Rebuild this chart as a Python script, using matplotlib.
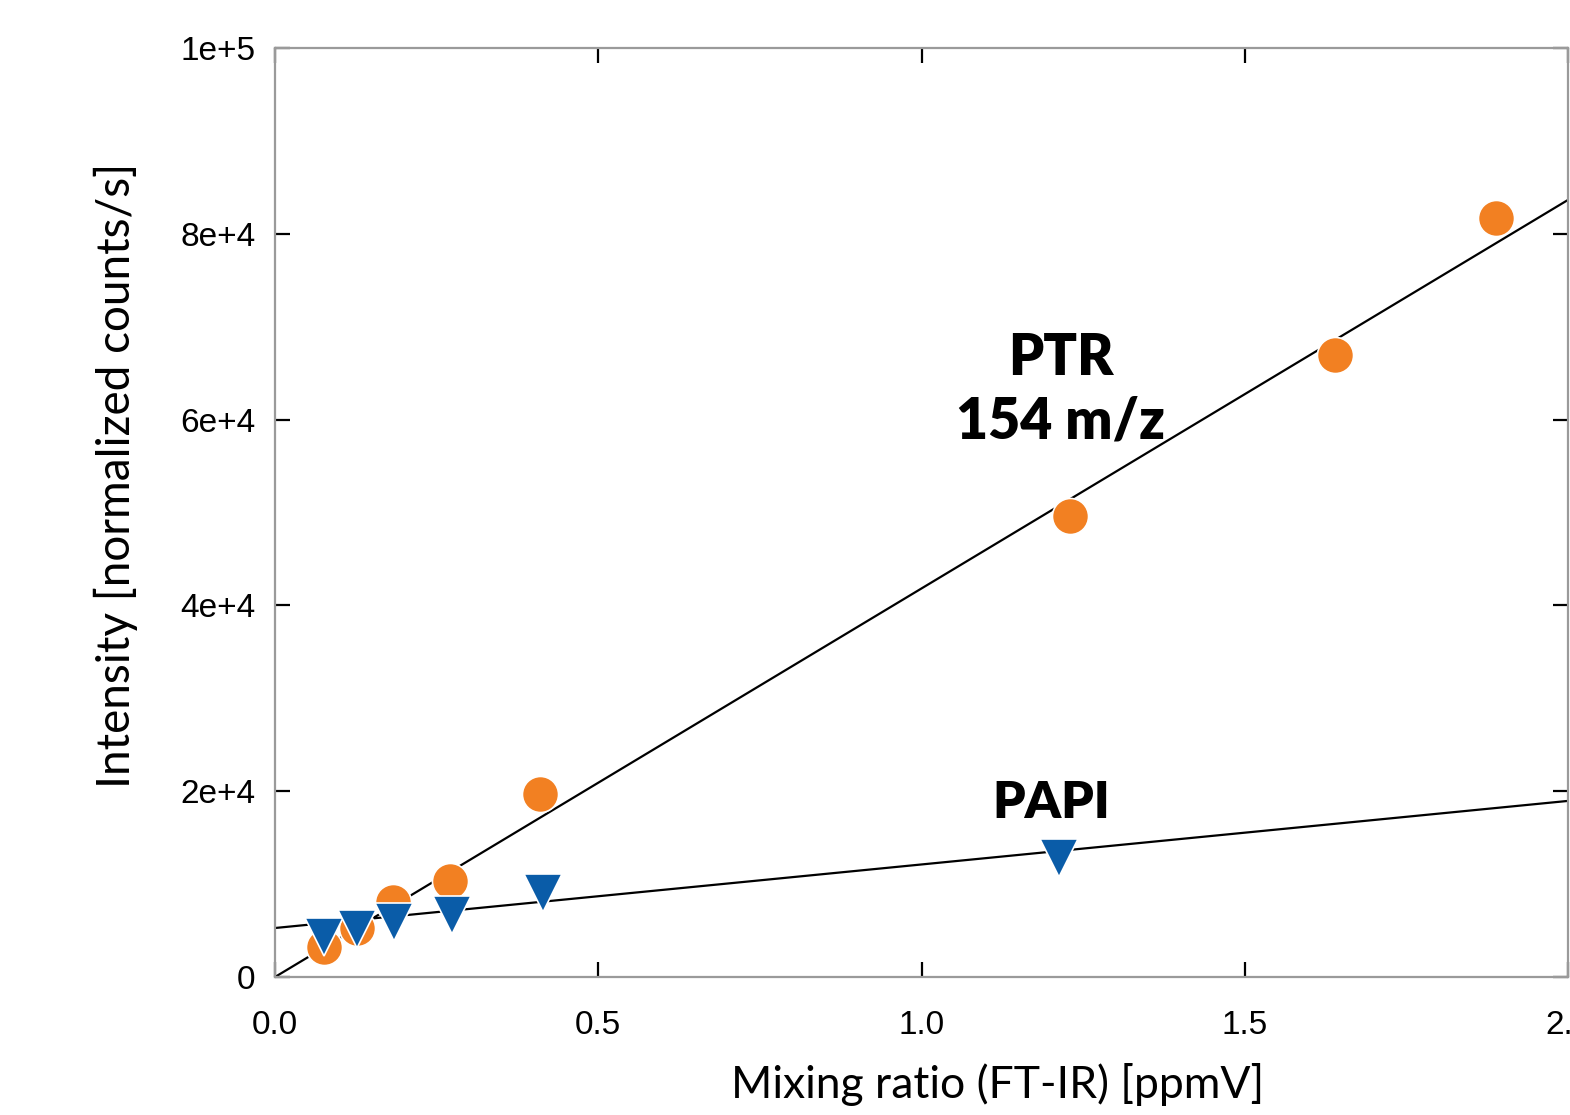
import numpy as np
import matplotlib
import matplotlib.pyplot as plt

matplotlib.use('Agg')

# PTR 154 m/z
ptr_x = [0.076, 0.127, 0.183, 0.271, 0.41, 1.229, 1.639, 1.889]
ptr_y = [3230, 5270, 8070, 10330, 19700, 49620, 66950, 81700]
# PAPI
papi_x = [0.076, 0.127, 0.184, 0.274, 0.415, 1.212]
papi_y = [4300, 5170, 5920, 6670, 9040, 12800]
# linear fits (slope, intercept)
ptr_fit = (41820, 0)
papi_fit = (6840, 5270)

x_ticks = [0.0, 0.5, 1.0, 1.5, 2.0]
y_ticks = [0, 20000, 40000, 60000, 80000, 100000]
y_labels = ['0', '2e+4', '4e+4', '6e+4', '8e+4', '1e+5']

orange = '#F28022'
blue = '#0A5CA8'

fig = plt.figure(figsize=(15.7, 11.15), dpi=100)
ax = fig.add_axes([0.1752, 0.1238, 0.8235, 0.8332])

xx = np.array([0.0, 2.0])
ax.plot(xx, ptr_fit[0] * xx + ptr_fit[1], color='black', lw=1.6, zorder=2)
ax.plot(xx, papi_fit[0] * xx + papi_fit[1], color='black', lw=1.6, zorder=2)

ax.plot(ptr_x, ptr_y, 'o', ms=26, color=orange, mec='white', mew=1.2, zorder=3)
ax.plot(papi_x, papi_y, 'v', ms=27, color=blue, mec='white', mew=1.2, zorder=4)

ax.set_xlim(0, 2.0)
ax.set_ylim(0, 100000)
ax.set_xticks(x_ticks)
ax.set_xticklabels([f'{v:.1f}' for v in x_ticks])
ax.set_yticks(y_ticks)
ax.set_yticklabels(y_labels)

for s in ax.spines.values():
    s.set_color('#9a9a9a')
    s.set_linewidth(1.6)
ax.tick_params(direction='in', length=11, width=1.6, color='black',
               top=True, right=True, labelsize=24, pad=14)
ax.tick_params(axis='x', pad=24)
for lab in ax.get_xticklabels() + ax.get_yticklabels():
    lab.set_family('Liberation Sans')

ax.set_xlabel('Mixing ratio (FT-IR) [ppmV]', fontsize=32, family='Lato',
              fontweight='normal')
ax.set_ylabel('Intensity [normalized counts/s]', fontsize=33, family='Lato',
              fontweight='normal')
ax.xaxis.set_label_coords(0.559, -0.093)
ax.yaxis.set_label_coords(-0.106, 0.540)

ax.text(1.215, 63200, 'PTR\n154 m/z', ha='center', va='center', fontsize=40,
        family='Lato', fontweight='heavy', linespacing=1.25)
ax.text(1.2, 18730, 'PAPI', ha='center', va='center', fontsize=37,
        family='Lato', fontweight='heavy')

fig.savefig('out.png', dpi=100)
